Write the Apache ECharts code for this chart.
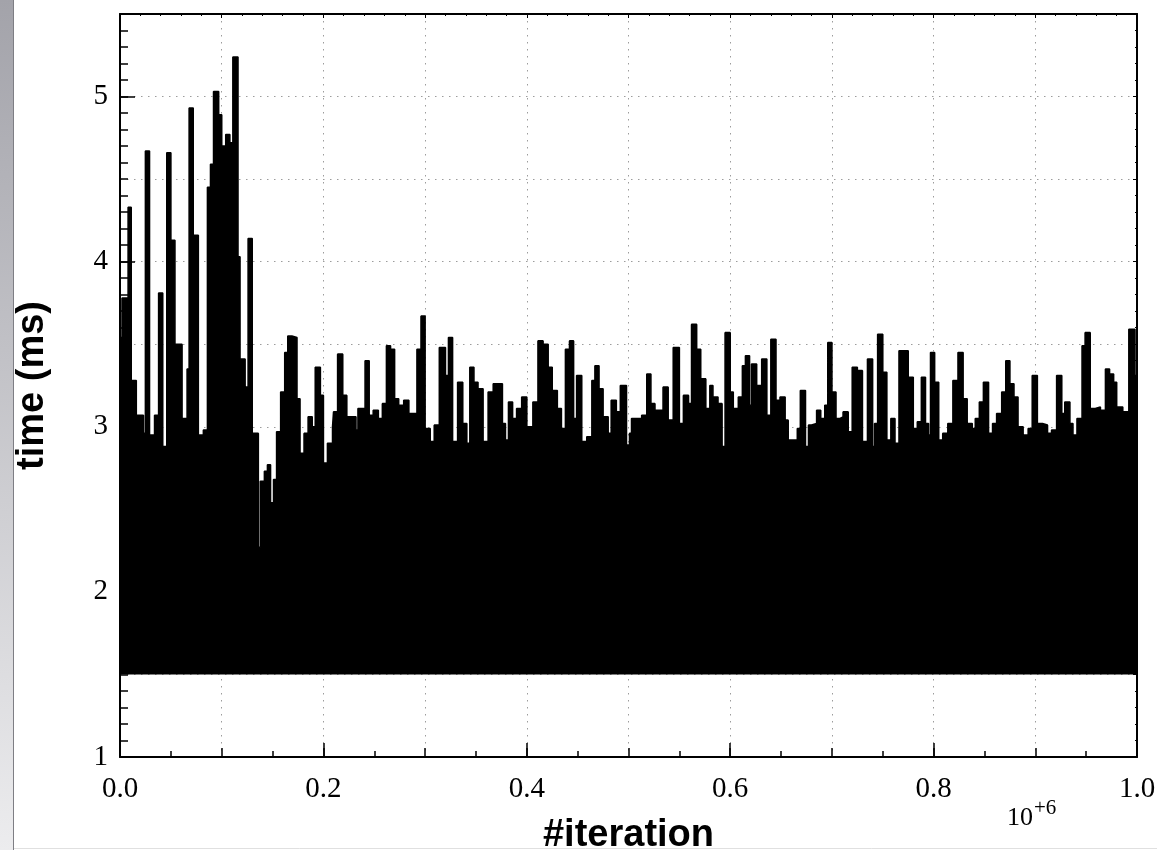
<!DOCTYPE html>
<html>
<head>
<meta charset="utf-8">
<script src="https://cdn.jsdelivr.net/npm/echarts@6/dist/echarts.min.js"></script>
<style>
  html, body { margin: 0; padding: 0; background: #ffffff; }
  #chart { width: 1157px; height: 850px; }
</style>
</head>
<body>
<div id="chart"></div>
<script>
// Upper envelope of the per-iteration timing, sampled at the start of each run
// (iteration in thousands, time in ms). Every run is held until the next start.
const iterationK = [
  0, 2, 8, 11, 16, 23, 25, 29, 34, 38, 42, 46, 50, 54, 61, 66, 68, 72, 77, 82,
  86, 89, 92, 97, 100, 104, 108, 111, 116, 118, 123, 126, 130, 136, 138, 142, 145, 148, 151, 154,
  158, 162, 165, 169, 174, 177, 181, 185, 189, 192, 197, 200, 204, 209, 210, 214, 219, 223, 232, 234,
  241, 245, 249, 254, 258, 262, 266, 270, 274, 279, 284, 292, 296, 300, 305, 309, 314, 320, 323, 327,
  332, 337, 341, 344, 348, 352, 357, 362, 367, 376, 379, 382, 386, 390, 395, 400, 406, 411, 416, 421,
  425, 430, 434, 438, 442, 446, 449, 454, 459, 464, 467, 471, 475, 480, 483, 488, 492, 498, 501, 503,
  513, 518, 522, 526, 534, 539, 544, 550, 554, 559, 562, 567, 571, 576, 580, 583, 588, 592, 595, 600,
  603, 608, 612, 615, 619, 621, 626, 631, 636, 640, 645, 649, 654, 657, 666, 669, 674, 677, 680, 685,
  689, 693, 696, 700, 704, 708, 711, 716, 720, 725, 730, 735, 740, 742, 745, 750, 754, 758, 762, 766,
  775, 780, 784, 788, 792, 795, 797, 801, 805, 809, 814, 819, 824, 829, 833, 838, 841, 845, 849, 854,
  858, 862, 867, 871, 875, 879, 883, 888, 893, 897, 902, 907, 912, 916, 921, 926, 929, 934, 937, 941,
  946, 949, 954, 959, 964, 969, 973, 977, 980, 986, 992, 998, 1000
];
const peakMs = [
  3.54, 3.78, 4.33, 3.28, 3.07, 2.96, 4.67, 2.95, 3.07, 3.81, 2.88, 4.66, 4.13, 3.50, 3.05, 3.35, 4.93, 4.16, 2.95, 2.98,
  4.45, 4.59, 5.03, 4.89, 4.70, 4.77, 4.72, 5.24, 4.03, 3.41, 3.24, 4.14, 2.96, 2.27, 2.67, 2.73, 2.77, 2.54, 2.68, 2.97,
  3.21, 3.45, 3.55, 3.54, 3.17, 2.84, 2.96, 3.06, 3.00, 3.36, 3.19, 2.78, 2.90, 3.00, 3.09, 3.44, 3.19, 3.06, 2.98, 3.11,
  3.40, 3.07, 3.10, 3.05, 3.14, 3.49, 3.47, 3.17, 3.13, 3.16, 3.08, 3.47, 3.67, 2.99, 2.91, 3.01, 3.48, 3.31, 3.54, 2.91,
  3.27, 3.02, 2.90, 3.36, 3.27, 3.23, 2.91, 3.21, 3.26, 3.02, 2.92, 3.15, 3.05, 3.11, 3.18, 3.00, 3.15, 3.52, 3.50, 3.36,
  3.22, 3.11, 2.99, 3.47, 3.52, 3.05, 3.31, 2.91, 2.94, 3.28, 3.37, 3.23, 3.06, 2.96, 3.16, 3.09, 3.25, 2.89, 2.96, 3.05,
  3.07, 3.32, 3.14, 3.10, 3.24, 3.04, 3.48, 3.02, 3.19, 3.14, 3.62, 3.47, 3.29, 3.11, 3.25, 3.18, 3.14, 2.88, 3.57, 3.21,
  3.11, 3.18, 3.37, 3.43, 3.13, 3.38, 3.25, 3.41, 3.07, 3.53, 3.16, 3.18, 3.04, 2.92, 2.99, 3.22, 2.88, 3.01, 3.02, 3.10,
  3.05, 3.13, 3.51, 3.21, 3.05, 3.06, 3.09, 2.97, 3.36, 3.34, 2.91, 3.41, 2.88, 3.02, 3.56, 3.33, 2.92, 3.05, 2.90, 3.46,
  3.30, 2.99, 3.03, 3.30, 3.02, 2.95, 3.45, 3.27, 2.92, 2.96, 3.02, 3.28, 3.45, 3.17, 3.02, 2.99, 3.05, 3.15, 3.27, 2.96,
  3.02, 3.08, 3.21, 3.40, 3.26, 3.18, 3.00, 2.95, 2.99, 3.31, 3.02, 3.01, 2.96, 2.98, 3.31, 3.08, 3.15, 3.02, 2.95, 3.05,
  3.49, 3.57, 3.11, 3.12, 3.10, 3.35, 3.32, 3.27, 3.12, 3.09, 3.59, 3.31, 3.31
];
// Fastest iterations sit on this floor; the fill starts here.
const floorMs = 1.5;

// Axis labels
const xTickLabels = ['0.0', '0.2', '0.4', '0.6', '0.8', '1.0'];
const yTickLabels = ['1', '2', '3', '4', '5'];
const xTitle = '#iteration';
const yTitle = 'time (ms)';
const xScaleNote = '10';
const xScaleExp = '+6';

const serif = '"Liberation Serif", "Times New Roman", serif';
const sans = '"Liberation Sans", Arial, Helvetica, sans-serif';

const seriesData = iterationK.map((k, i) => [k / 1000, peakMs[i]]);

const box = { left: 120, right: 20, top: 14, bottom: 93, outerBoundsMode: 'none', containLabel: false };
const frameLine = { show: true, onZero: false, lineStyle: { color: '#000', width: 2 } };
const tickStyle = { color: '#000', width: 1.5 };
const dotted = { color: '#9c9c9c', width: 1, type: [1.5, 5.5] };

function xLabel(v) {
  const s = v.toFixed(1);
  return xTickLabels.indexOf(s) >= 0 ? s : '';
}
function yLabel(v) {
  const s = String(Math.round(v * 10) / 10);
  return yTickLabels.indexOf(s) >= 0 ? s : '';
}

const chart = echarts.init(document.getElementById('chart'), null, { renderer: 'canvas' });

chart.setOption({
  animation: false,
  backgroundColor: '#ffffff',
  grid: [
    Object.assign({ show: false }, box),
    Object.assign({ show: false }, box)
  ],
  xAxis: [
    {
      gridIndex: 0, type: 'value', position: 'bottom', min: 0, max: 1, interval: 0.1,
      axisLine: frameLine,
      axisTick: { show: true, inside: true, length: 9, lineStyle: tickStyle },
      minorTick: { show: true, splitNumber: 2, length: 6, lineStyle: tickStyle },
      splitLine: { show: true, lineStyle: dotted },
      axisLabel: {
        show: true, formatter: xLabel, margin: 18,
        fontFamily: serif, fontSize: 29, color: '#000',
        showMinLabel: true, showMaxLabel: true
      },
      name: xTitle, nameLocation: 'middle', nameGap: 60,
      nameTextStyle: { fontFamily: sans, fontWeight: 'bold', fontSize: 38, color: '#000' }
    },
    {
      gridIndex: 0, type: 'value', position: 'top', min: 0, max: 1, interval: 0.1,
      axisLine: frameLine,
      axisTick: { show: true, inside: true, length: 4, lineStyle: { color: '#000', width: 1 } },
      minorTick: { show: true, splitNumber: 5, length: 2, lineStyle: { color: '#000', width: 1 } },
      splitLine: { show: false },
      axisLabel: { show: false }
    },
    {
      gridIndex: 1, type: 'value', position: 'bottom', min: 0, max: 1, interval: 0.2,
      axisLine: { show: false },
      axisTick: { show: true, inside: true, length: 14, lineStyle: tickStyle },
      splitLine: { show: false },
      axisLabel: { show: false }
    }
  ],
  yAxis: [
    {
      gridIndex: 0, type: 'value', position: 'left', min: 1, max: 5.5, interval: 0.5,
      axisLine: frameLine,
      axisTick: { show: true, inside: true, length: 8, lineStyle: tickStyle },
      minorTick: { show: true, splitNumber: 5, length: 8, lineStyle: tickStyle },
      splitLine: { show: true, lineStyle: dotted },
      axisLabel: {
        show: true, formatter: yLabel, margin: 12,
        fontFamily: serif, fontSize: 29, color: '#000',
        showMinLabel: true, showMaxLabel: false
      },
      name: yTitle, nameLocation: 'middle', nameGap: 68, nameRotate: 90,
      nameTextStyle: { fontFamily: sans, fontWeight: 'bold', fontSize: 38, color: '#000' }
    },
    {
      gridIndex: 0, type: 'value', position: 'right', min: 1, max: 5.5, interval: 0.5,
      axisLine: frameLine,
      axisTick: { show: true, inside: true, length: 4, lineStyle: { color: '#000', width: 1 } },
      minorTick: { show: true, splitNumber: 5, length: 2, lineStyle: { color: '#000', width: 1 } },
      splitLine: { show: false },
      axisLabel: { show: false }
    },
    {
      gridIndex: 1, type: 'value', position: 'left', min: 1, max: 5.5, interval: 1,
      axisLine: { show: false },
      axisTick: { show: true, inside: true, length: 15, lineStyle: tickStyle },
      splitLine: { show: false },
      axisLabel: { show: false }
    }
  ],
  series: [
    {
      type: 'line', xAxisIndex: 0, yAxisIndex: 0,
      data: seriesData, step: 'end', symbol: 'none', silent: true,
      lineStyle: { color: '#000', width: 1.6 },
      areaStyle: { color: '#000', opacity: 1, origin: floorMs },
      z: 3
    }
  ],
  graphic: [
    {
      type: 'rect', left: 0, top: 0, z: 0, silent: true,
      shape: { width: 13, height: 850 },
      style: {
        fill: new echarts.graphic.LinearGradient(0, 0, 0, 1, [
          { offset: 0, color: '#a3a3aa' },
          { offset: 1, color: '#ececee' }
        ])
      }
    },
    {
      type: 'line', silent: true, z: 1,
      shape: { x1: 13.5, y1: 0, x2: 13.5, y2: 850 },
      style: { stroke: '#7e7e84', lineWidth: 1 }
    },
    {
      type: 'line', silent: true, z: 10,
      shape: { x1: 14, y1: 848.5, x2: 1157, y2: 848.5 },
      style: { stroke: '#e0e0e0', lineWidth: 1 }
    },
    {
      type: 'text', silent: true, z: 5,
      style: {
        text: xScaleNote, x: 1007, y: 818, fill: '#000',
        font: '26px ' + serif, textAlign: 'left', textVerticalAlign: 'middle'
      }
    },
    {
      type: 'text', silent: true, z: 5,
      style: {
        text: xScaleExp, x: 1034, y: 808, fill: '#000',
        font: '21px ' + serif, textAlign: 'left', textVerticalAlign: 'middle'
      }
    }
  ]
});
</script>
</body>
</html>
